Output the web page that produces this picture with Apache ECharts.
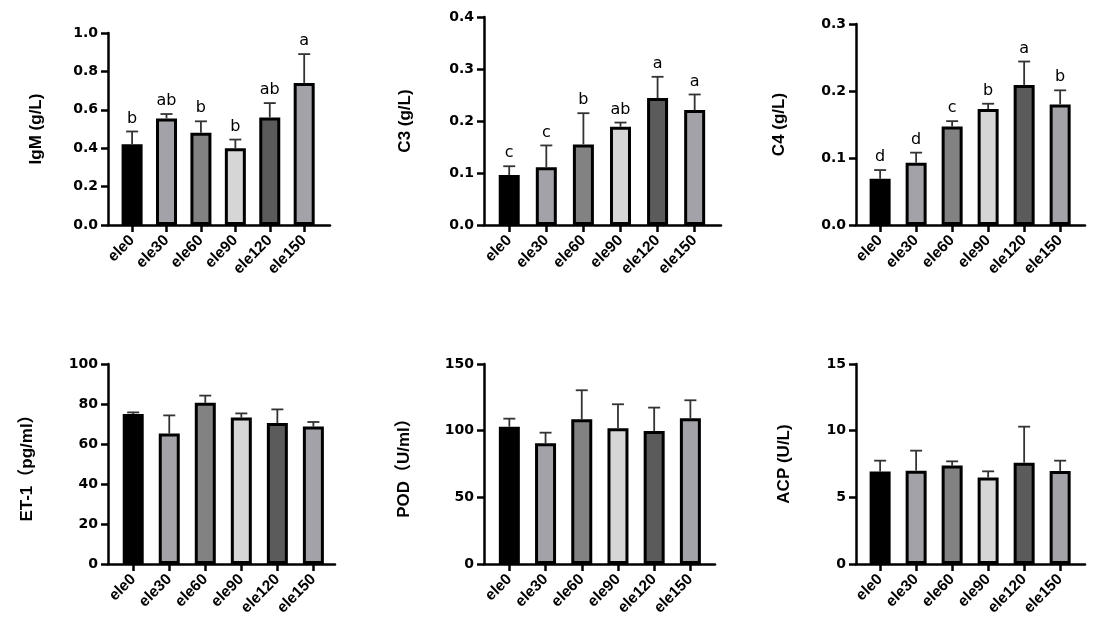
<!DOCTYPE html>
<html>
<head>
<meta charset="utf-8">
<script src="https://cdn.jsdelivr.net/npm/echarts@6/dist/echarts.min.js"></script>
<style>
  html, body { margin: 0; padding: 0; background: #fff; }
  #main { width: 1096px; height: 630px; }
</style>
</head>
<body>
<div id="main"></div>
<script>
// groups on the x axis
var categories = ['ele0', 'ele30', 'ele60', 'ele90', 'ele120', 'ele150'];

// means and SD (upper whisker) per panel
var igmMean = [0.42, 0.555, 0.48, 0.40, 0.56, 0.74];
var igmSd   = [0.067, 0.023, 0.06, 0.045, 0.075, 0.15];
var igmSig  = ['b', 'ab', 'b', 'b', 'ab', 'a'];

var c3Mean = [0.096, 0.111, 0.155, 0.189, 0.244, 0.221];
var c3Sd   = [0.017, 0.042, 0.06, 0.008, 0.041, 0.03];
var c3Sig  = ['c', 'c', 'b', 'ab', 'a', 'a'];

var c4Mean = [0.069, 0.093, 0.147, 0.173, 0.209, 0.180];
var c4Sd   = [0.013, 0.015, 0.008, 0.008, 0.035, 0.021];
var c4Sig  = ['d', 'd', 'c', 'b', 'a', 'b'];

var et1Mean = [75, 65.2, 80.6, 73.2, 70.5, 68.7];
var et1Sd   = [0.8, 9.1, 3.6, 2.1, 6.8, 2.3];

var podMean = [103, 90.5, 108.5, 101.8, 99.8, 109.3];
var podSd   = [6, 8, 21.8, 18, 17.5, 13.5];

var acpMean = [6.93, 7.0, 7.38, 6.48, 7.6, 6.98];
var acpSd   = [0.82, 1.5, 0.32, 0.47, 2.7, 0.77];

var barColors = ['#000000', '#a4a2a9', '#828282', '#d6d6d6', '#5b5b5b', '#a4a2a9'];

var chart = echarts.init(document.getElementById('main'));

var tickFont = 'DejaVu Sans';
var titleFont = 'Liberation Sans, Noto Sans CJK SC';

// one entry per panel: where it sits and how its y axis looks
var panels = [
  { grid: { left: 108, top: 33, width: 222, height: 192 }, name: 'IgM (g/L)', gap: 63,
    mean: igmMean, sd: igmSd, sig: igmSig, yMax: 1.0, step: 0.2, dec: 1, xMin: -0.7, xMax: 5.75 },
  { grid: { left: 484, top: 17, width: 237, height: 208 }, name: 'C3 (g/L)', gap: 70,
    mean: c3Mean, sd: c3Sd, sig: c3Sig, yMax: 0.4, step: 0.1, dec: 1, xMin: -0.68, xMax: 5.71 },
  { grid: { left: 856, top: 24, width: 229, height: 201 }, name: 'C4 (g/L)', gap: 68,
    mean: c4Mean, sd: c4Sd, sig: c4Sig, yMax: 0.3, step: 0.1, dec: 1, xMin: -0.67, xMax: 5.69 },
  { grid: { left: 108, top: 364, width: 227, height: 200 }, name: 'ET-1（pg/ml）', gap: 72,
    mean: et1Mean, sd: et1Sd, sig: null, yMax: 100, step: 20, dec: 0, xMin: -0.7, xMax: 5.6 },
  { grid: { left: 484, top: 364, width: 231, height: 200 }, name: 'POD（U/ml）', gap: 71,
    mean: podMean, sd: podSd, sig: null, yMax: 150, step: 50, dec: 0, xMin: -0.7, xMax: 5.68 },
  { grid: { left: 856, top: 364, width: 229, height: 200 }, name: 'ACP (U/L)', gap: 63,
    mean: acpMean, sd: acpSd, sig: null, yMax: 15, step: 5, dec: 0, xMin: -0.67, xMax: 5.69 }
];

var idx = [0, 1, 2, 3, 4, 5];
var grids = [], xAxes = [], yAxes = [], series = [];

panels.forEach(function (p, k) {
  grids.push(p.grid);

  xAxes.push({
    gridIndex: k,
    type: 'value',
    min: p.xMin,
    max: p.xMax,
    splitLine: { show: false },
    axisLine: { show: true, onZero: false, lineStyle: { color: '#000', width: 2.5 } },
    axisTick: { show: true, customValues: idx, length: 7, lineStyle: { color: '#000', width: 2.5 } },
    axisLabel: {
      customValues: idx,
      rotate: 45,
      margin: 13,
      // top padding nudges the rotated text down-right, like the original
      padding: [26, 0, 0, 0],
      color: '#000',
      fontFamily: 'Liberation Sans',
      fontWeight: 'bold',
      fontSize: 15.5,
      formatter: function (v) { return categories[v]; }
    }
  });

  yAxes.push({
    gridIndex: k,
    type: 'value',
    min: 0,
    max: p.yMax,
    interval: p.step,
    name: p.name,
    nameLocation: 'middle',
    nameGap: p.gap,
    nameTextStyle: { color: '#000', fontFamily: titleFont, fontWeight: 'bold', fontSize: 17 },
    splitLine: { show: false },
    axisLine: { show: true, onZero: false, lineStyle: { color: '#000', width: 2.5 } },
    axisTick: { show: true, length: 7, lineStyle: { color: '#000', width: 2.5 } },
    axisLabel: {
      margin: 10,
      color: '#000',
      fontFamily: tickFont,
      fontWeight: 'bold',
      fontSize: 14,
      formatter: function (v) { return v.toFixed(p.dec); }
    }
  });

  series.push({
    type: 'bar',
    xAxisIndex: k,
    yAxisIndex: k,
    barWidth: 21,
    data: p.mean.map(function (m, i) {
      return { value: [i, m], itemStyle: { color: barColors[i] } };
    }),
    itemStyle: { borderColor: '#000', borderWidth: 3 }
  });

  // upper error whisker plus the significance letter
  series.push({
    type: 'custom',
    xAxisIndex: k,
    yAxisIndex: k,
    clip: false,
    z: 5,
    data: p.mean.map(function (m, i) { return [i, m, m + p.sd[i]]; }),
    encode: { x: 0, y: [1, 2] },
    renderItem: function (params, api) {
      var i = api.value(0);
      var base = api.coord([i, api.value(1)]);
      var top = api.coord([i, api.value(2)]);
      var st = { stroke: '#333', lineWidth: 1.8 };
      var children = [
        { type: 'line', shape: { x1: base[0], y1: base[1], x2: top[0], y2: top[1] }, style: st },
        { type: 'line', shape: { x1: top[0] - 6, y1: top[1], x2: top[0] + 6, y2: top[1] }, style: st }
      ];
      if (p.sig) {
        children.push({
          type: 'text',
          x: top[0],
          y: top[1] - 5,
          style: {
            text: p.sig[params.dataIndex],
            align: 'center',
            verticalAlign: 'bottom',
            fontFamily: tickFont,
            fontSize: 16,
            fill: '#000'
          }
        });
      }
      return { type: 'group', children: children };
    }
  });
});

var option = {
  animation: false,
  backgroundColor: '#fff',
  grid: grids,
  xAxis: xAxes,
  yAxis: yAxes,
  series: series
};

chart.setOption(option);
</script>
</body>
</html>
